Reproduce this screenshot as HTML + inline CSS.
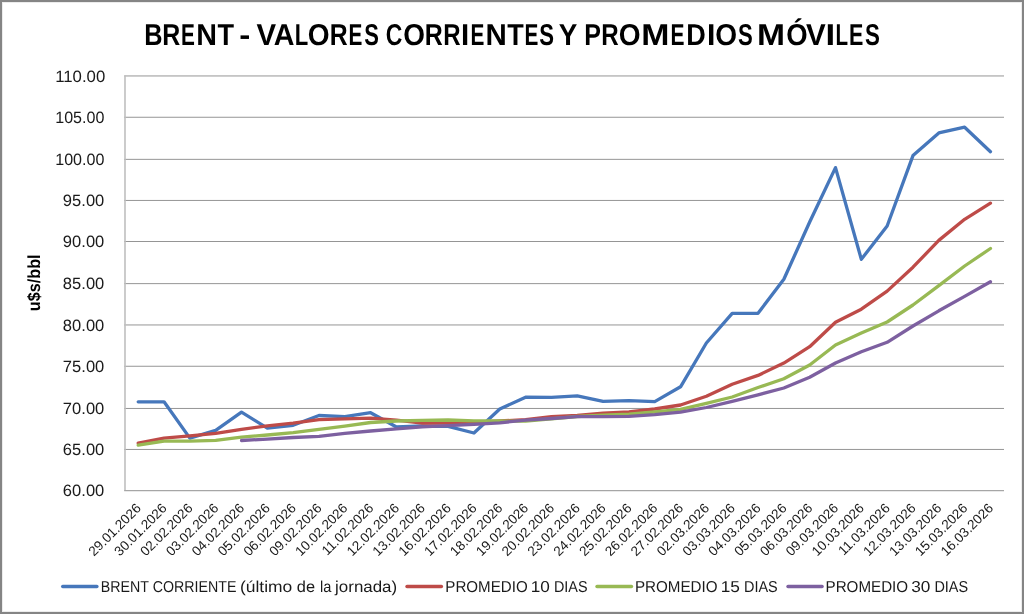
<!DOCTYPE html>
<html><head><meta charset="utf-8"><title>BRENT - Valores corrientes y promedios moviles</title>
<style>
html,body{margin:0;padding:0;background:#fff;}
body{width:1024px;height:614px;overflow:hidden;}
svg{display:block;will-change:transform;}
text{font-family:"Liberation Sans",sans-serif;text-rendering:geometricPrecision;}
</style></head><body>
<svg width="1024" height="614" viewBox="0 0 1024 614">
<rect x="0" y="0" width="1024" height="614" fill="#ffffff"/>
<rect x="1" y="1" width="1022" height="612" fill="none" stroke="#858585" stroke-width="2"/>
<rect x="2.5" y="2.5" width="1019" height="609" fill="none" stroke="#ececec" stroke-width="1"/>
<line x1="124.2" y1="449.45" x2="1004.0" y2="449.45" stroke="#959595" stroke-width="1"/>
<line x1="124.2" y1="408.46" x2="1004.0" y2="408.46" stroke="#959595" stroke-width="1"/>
<line x1="124.2" y1="366.25" x2="1004.0" y2="366.25" stroke="#959595" stroke-width="1"/>
<line x1="124.2" y1="324.96" x2="1004.0" y2="324.96" stroke="#959595" stroke-width="1"/>
<line x1="124.2" y1="283.64" x2="1004.0" y2="283.64" stroke="#959595" stroke-width="1"/>
<line x1="124.2" y1="241.50" x2="1004.0" y2="241.50" stroke="#959595" stroke-width="1"/>
<line x1="124.2" y1="200.45" x2="1004.0" y2="200.45" stroke="#959595" stroke-width="1"/>
<line x1="124.2" y1="159.35" x2="1004.0" y2="159.35" stroke="#959595" stroke-width="1"/>
<line x1="124.2" y1="117.25" x2="1004.0" y2="117.25" stroke="#959595" stroke-width="1"/>
<line x1="124.2" y1="75.96" x2="1004.0" y2="75.96" stroke="#959595" stroke-width="1"/>
<line x1="125.0" y1="75.46" x2="125.0" y2="490.64" stroke="#bfbfbf" stroke-width="1.6"/>
<line x1="124.2" y1="490.64" x2="1004.0" y2="490.64" stroke="#a6a6a6" stroke-width="1.4"/>
<text x="144.22" y="45.25" font-size="30.2" font-weight="bold" fill="#000" textLength="18.30" lengthAdjust="spacingAndGlyphs">B</text>
<text x="162.25" y="45.25" font-size="30.2" font-weight="bold" fill="#000" textLength="18.02" lengthAdjust="spacingAndGlyphs">R</text>
<text x="181.12" y="45.25" font-size="30.2" font-weight="bold" fill="#000" textLength="13.86" lengthAdjust="spacingAndGlyphs">E</text>
<text x="196.20" y="45.25" font-size="30.2" font-weight="bold" fill="#000" textLength="20.72" lengthAdjust="spacingAndGlyphs">N</text>
<text x="217.60" y="45.25" font-size="30.2" font-weight="bold" fill="#000" textLength="16.56" lengthAdjust="spacingAndGlyphs">T</text>
<text x="239.30" y="45.25" font-size="30.2" font-weight="bold" fill="#000" textLength="11.07" lengthAdjust="spacingAndGlyphs">-</text>
<text x="256.53" y="45.25" font-size="30.2" font-weight="bold" fill="#000" textLength="19.61" lengthAdjust="spacingAndGlyphs">V</text>
<text x="273.65" y="45.25" font-size="30.2" font-weight="bold" fill="#000" textLength="20.72" lengthAdjust="spacingAndGlyphs">A</text>
<text x="294.64" y="45.25" font-size="30.2" font-weight="bold" fill="#000" textLength="13.49" lengthAdjust="spacingAndGlyphs">L</text>
<text x="307.87" y="45.25" font-size="30.2" font-weight="bold" fill="#000" textLength="21.81" lengthAdjust="spacingAndGlyphs">O</text>
<text x="329.76" y="45.25" font-size="30.2" font-weight="bold" fill="#000" textLength="17.91" lengthAdjust="spacingAndGlyphs">R</text>
<text x="348.52" y="45.25" font-size="30.2" font-weight="bold" fill="#000" textLength="13.86" lengthAdjust="spacingAndGlyphs">E</text>
<text x="364.37" y="45.25" font-size="30.2" font-weight="bold" fill="#000" textLength="14.66" lengthAdjust="spacingAndGlyphs">S</text>
<text x="385.74" y="45.25" font-size="30.2" font-weight="bold" fill="#000" textLength="16.58" lengthAdjust="spacingAndGlyphs">C</text>
<text x="403.18" y="45.25" font-size="30.2" font-weight="bold" fill="#000" textLength="21.70" lengthAdjust="spacingAndGlyphs">O</text>
<text x="424.65" y="45.25" font-size="30.2" font-weight="bold" fill="#000" textLength="18.02" lengthAdjust="spacingAndGlyphs">R</text>
<text x="443.31" y="45.25" font-size="30.2" font-weight="bold" fill="#000" textLength="17.34" lengthAdjust="spacingAndGlyphs">R</text>
<text x="461.05" y="45.25" font-size="30.2" font-weight="bold" fill="#000" textLength="8.18" lengthAdjust="spacingAndGlyphs">I</text>
<text x="470.42" y="45.25" font-size="30.2" font-weight="bold" fill="#000" textLength="13.86" lengthAdjust="spacingAndGlyphs">E</text>
<text x="485.44" y="45.25" font-size="30.2" font-weight="bold" fill="#000" textLength="21.33" lengthAdjust="spacingAndGlyphs">N</text>
<text x="507.30" y="45.25" font-size="30.2" font-weight="bold" fill="#000" textLength="16.51" lengthAdjust="spacingAndGlyphs">T</text>
<text x="524.52" y="45.25" font-size="30.2" font-weight="bold" fill="#000" textLength="13.86" lengthAdjust="spacingAndGlyphs">E</text>
<text x="539.27" y="45.25" font-size="30.2" font-weight="bold" fill="#000" textLength="14.77" lengthAdjust="spacingAndGlyphs">S</text>
<text x="558.68" y="45.25" font-size="30.2" font-weight="bold" fill="#000" textLength="18.57" lengthAdjust="spacingAndGlyphs">Y</text>
<text x="584.24" y="45.25" font-size="30.2" font-weight="bold" fill="#000" textLength="16.70" lengthAdjust="spacingAndGlyphs">P</text>
<text x="601.30" y="45.25" font-size="30.2" font-weight="bold" fill="#000" textLength="17.45" lengthAdjust="spacingAndGlyphs">R</text>
<text x="618.67" y="45.25" font-size="30.2" font-weight="bold" fill="#000" textLength="21.81" lengthAdjust="spacingAndGlyphs">O</text>
<text x="641.26" y="45.25" font-size="30.2" font-weight="bold" fill="#000" textLength="28.15" lengthAdjust="spacingAndGlyphs">M</text>
<text x="670.41" y="45.25" font-size="30.2" font-weight="bold" fill="#000" textLength="13.98" lengthAdjust="spacingAndGlyphs">E</text>
<text x="686.21" y="45.25" font-size="30.2" font-weight="bold" fill="#000" textLength="19.52" lengthAdjust="spacingAndGlyphs">D</text>
<text x="706.90" y="45.25" font-size="30.2" font-weight="bold" fill="#000" textLength="8.39" lengthAdjust="spacingAndGlyphs">I</text>
<text x="715.37" y="45.25" font-size="30.2" font-weight="bold" fill="#000" textLength="21.81" lengthAdjust="spacingAndGlyphs">O</text>
<text x="737.97" y="45.25" font-size="30.2" font-weight="bold" fill="#000" textLength="14.77" lengthAdjust="spacingAndGlyphs">S</text>
<text x="757.07" y="45.25" font-size="30.2" font-weight="bold" fill="#000" textLength="28.03" lengthAdjust="spacingAndGlyphs">M</text>
<text x="786.19" y="45.25" font-size="30.2" font-weight="bold" fill="#000" textLength="21.36" lengthAdjust="spacingAndGlyphs">Ó</text>
<text x="806.12" y="45.25" font-size="30.2" font-weight="bold" fill="#000" textLength="19.72" lengthAdjust="spacingAndGlyphs">V</text>
<text x="825.60" y="45.25" font-size="30.2" font-weight="bold" fill="#000" textLength="9.65" lengthAdjust="spacingAndGlyphs">I</text>
<text x="835.44" y="45.25" font-size="30.2" font-weight="bold" fill="#000" textLength="12.57" lengthAdjust="spacingAndGlyphs">L</text>
<text x="849.08" y="45.25" font-size="30.2" font-weight="bold" fill="#000" textLength="14.34" lengthAdjust="spacingAndGlyphs">E</text>
<text x="864.96" y="45.25" font-size="30.2" font-weight="bold" fill="#000" textLength="14.88" lengthAdjust="spacingAndGlyphs">S</text>
<text x="100.80" y="591.60" font-size="15.8" fill="#1a1a1a" textLength="48.19" lengthAdjust="spacingAndGlyphs">BRENT</text>
<text x="152.80" y="591.60" font-size="15.8" fill="#1a1a1a" textLength="83.63" lengthAdjust="spacingAndGlyphs">CORRIENTE</text>
<text x="240.00" y="591.60" font-size="15.8" fill="#1a1a1a" textLength="52.25" lengthAdjust="spacingAndGlyphs">(último</text>
<text x="296.86" y="591.60" font-size="15.8" fill="#1a1a1a" textLength="18.24" lengthAdjust="spacingAndGlyphs">de</text>
<text x="319.97" y="591.60" font-size="15.8" fill="#1a1a1a" textLength="11.40" lengthAdjust="spacingAndGlyphs">la</text>
<text x="335.10" y="591.60" font-size="15.8" fill="#1a1a1a" textLength="62.04" lengthAdjust="spacingAndGlyphs">jornada)</text>
<text x="445.34" y="591.60" font-size="15.8" fill="#1a1a1a" textLength="82.33" lengthAdjust="spacingAndGlyphs">PROMEDIO</text>
<text x="530.71" y="591.60" font-size="15.8" fill="#1a1a1a" textLength="19.12" lengthAdjust="spacingAndGlyphs">10</text>
<text x="553.89" y="591.60" font-size="15.8" fill="#1a1a1a" textLength="33.61" lengthAdjust="spacingAndGlyphs">DIAS</text>
<text x="634.94" y="591.60" font-size="15.8" fill="#1a1a1a" textLength="82.68" lengthAdjust="spacingAndGlyphs">PROMEDIO</text>
<text x="720.68" y="591.60" font-size="15.8" fill="#1a1a1a" textLength="19.19" lengthAdjust="spacingAndGlyphs">15</text>
<text x="743.94" y="591.60" font-size="15.8" fill="#1a1a1a" textLength="33.76" lengthAdjust="spacingAndGlyphs">DIAS</text>
<text x="825.54" y="591.60" font-size="15.8" fill="#1a1a1a" textLength="82.56" lengthAdjust="spacingAndGlyphs">PROMEDIO</text>
<text x="911.15" y="591.60" font-size="15.8" fill="#1a1a1a" textLength="19.17" lengthAdjust="spacingAndGlyphs">30</text>
<text x="934.40" y="591.60" font-size="15.8" fill="#1a1a1a" textLength="33.70" lengthAdjust="spacingAndGlyphs">DIAS</text>
<text x="62.89" y="496.39" font-size="16.4" fill="#1a1a1a" textLength="41.44" lengthAdjust="spacingAndGlyphs">60.00</text>
<text x="62.89" y="455.20" font-size="16.4" fill="#1a1a1a" textLength="41.44" lengthAdjust="spacingAndGlyphs">65.00</text>
<text x="62.89" y="414.21" font-size="16.4" fill="#1a1a1a" textLength="41.44" lengthAdjust="spacingAndGlyphs">70.00</text>
<text x="62.89" y="372.00" font-size="16.4" fill="#1a1a1a" textLength="41.44" lengthAdjust="spacingAndGlyphs">75.00</text>
<text x="62.89" y="330.71" font-size="16.4" fill="#1a1a1a" textLength="41.44" lengthAdjust="spacingAndGlyphs">80.00</text>
<text x="62.89" y="289.39" font-size="16.4" fill="#1a1a1a" textLength="41.44" lengthAdjust="spacingAndGlyphs">85.00</text>
<text x="62.89" y="247.25" font-size="16.4" fill="#1a1a1a" textLength="41.44" lengthAdjust="spacingAndGlyphs">90.00</text>
<text x="62.89" y="206.20" font-size="16.4" fill="#1a1a1a" textLength="41.44" lengthAdjust="spacingAndGlyphs">95.00</text>
<text x="55.22" y="165.10" font-size="16.4" fill="#1a1a1a" textLength="49.22" lengthAdjust="spacingAndGlyphs">100.00</text>
<text x="55.22" y="123.00" font-size="16.4" fill="#1a1a1a" textLength="49.22" lengthAdjust="spacingAndGlyphs">105.00</text>
<text x="55.18" y="81.71" font-size="16.4" fill="#1a1a1a" textLength="50.07" lengthAdjust="spacingAndGlyphs">110.00</text>
<text transform="translate(40.2,311.13) rotate(-90)" font-weight="bold" font-size="17.5" fill="#000" textLength="56.70" lengthAdjust="spacingAndGlyphs">u$s/bbl</text>
<text transform="translate(141.80,509.00) rotate(-45)" text-anchor="end" font-size="13.5" fill="#1a1a1a">29.01.2026</text>
<text transform="translate(167.63,509.00) rotate(-45)" text-anchor="end" font-size="13.5" fill="#1a1a1a">30.01.2026</text>
<text transform="translate(193.45,509.00) rotate(-45)" text-anchor="end" font-size="13.5" fill="#1a1a1a">02.02.2026</text>
<text transform="translate(219.28,509.00) rotate(-45)" text-anchor="end" font-size="13.5" fill="#1a1a1a">03.02.2026</text>
<text transform="translate(245.10,509.00) rotate(-45)" text-anchor="end" font-size="13.5" fill="#1a1a1a">04.02.2026</text>
<text transform="translate(270.93,509.00) rotate(-45)" text-anchor="end" font-size="13.5" fill="#1a1a1a">05.02.2026</text>
<text transform="translate(296.76,509.00) rotate(-45)" text-anchor="end" font-size="13.5" fill="#1a1a1a">06.02.2026</text>
<text transform="translate(322.58,509.00) rotate(-45)" text-anchor="end" font-size="13.5" fill="#1a1a1a">09.02.2026</text>
<text transform="translate(348.41,509.00) rotate(-45)" text-anchor="end" font-size="13.5" fill="#1a1a1a">10.02.2026</text>
<text transform="translate(374.23,509.00) rotate(-45)" text-anchor="end" font-size="13.5" fill="#1a1a1a">11.02.2026</text>
<text transform="translate(400.06,509.00) rotate(-45)" text-anchor="end" font-size="13.5" fill="#1a1a1a">12.02.2026</text>
<text transform="translate(425.89,509.00) rotate(-45)" text-anchor="end" font-size="13.5" fill="#1a1a1a">13.02.2026</text>
<text transform="translate(451.71,509.00) rotate(-45)" text-anchor="end" font-size="13.5" fill="#1a1a1a">16.02.2026</text>
<text transform="translate(477.54,509.00) rotate(-45)" text-anchor="end" font-size="13.5" fill="#1a1a1a">17.02.2026</text>
<text transform="translate(503.36,509.00) rotate(-45)" text-anchor="end" font-size="13.5" fill="#1a1a1a">18.02.2026</text>
<text transform="translate(529.19,509.00) rotate(-45)" text-anchor="end" font-size="13.5" fill="#1a1a1a">19.02.2026</text>
<text transform="translate(555.02,509.00) rotate(-45)" text-anchor="end" font-size="13.5" fill="#1a1a1a">20.02.2026</text>
<text transform="translate(580.84,509.00) rotate(-45)" text-anchor="end" font-size="13.5" fill="#1a1a1a">23.02.2026</text>
<text transform="translate(606.67,509.00) rotate(-45)" text-anchor="end" font-size="13.5" fill="#1a1a1a">24.02.2026</text>
<text transform="translate(632.49,509.00) rotate(-45)" text-anchor="end" font-size="13.5" fill="#1a1a1a">25.02.2026</text>
<text transform="translate(658.32,509.00) rotate(-45)" text-anchor="end" font-size="13.5" fill="#1a1a1a">26.02.2026</text>
<text transform="translate(684.15,509.00) rotate(-45)" text-anchor="end" font-size="13.5" fill="#1a1a1a">27.02.2026</text>
<text transform="translate(709.97,509.00) rotate(-45)" text-anchor="end" font-size="13.5" fill="#1a1a1a">02.03.2026</text>
<text transform="translate(735.80,509.00) rotate(-45)" text-anchor="end" font-size="13.5" fill="#1a1a1a">03.03.2026</text>
<text transform="translate(761.62,509.00) rotate(-45)" text-anchor="end" font-size="13.5" fill="#1a1a1a">04.03.2026</text>
<text transform="translate(787.45,509.00) rotate(-45)" text-anchor="end" font-size="13.5" fill="#1a1a1a">05.03.2026</text>
<text transform="translate(813.28,509.00) rotate(-45)" text-anchor="end" font-size="13.5" fill="#1a1a1a">06.03.2026</text>
<text transform="translate(839.10,509.00) rotate(-45)" text-anchor="end" font-size="13.5" fill="#1a1a1a">09.03.2026</text>
<text transform="translate(864.93,509.00) rotate(-45)" text-anchor="end" font-size="13.5" fill="#1a1a1a">10.03.2026</text>
<text transform="translate(890.75,509.00) rotate(-45)" text-anchor="end" font-size="13.5" fill="#1a1a1a">11.03.2026</text>
<text transform="translate(916.58,509.00) rotate(-45)" text-anchor="end" font-size="13.5" fill="#1a1a1a">12.03.2026</text>
<text transform="translate(942.41,509.00) rotate(-45)" text-anchor="end" font-size="13.5" fill="#1a1a1a">13.03.2026</text>
<text transform="translate(968.23,509.00) rotate(-45)" text-anchor="end" font-size="13.5" fill="#1a1a1a">15.03.2026</text>
<text transform="translate(994.06,509.00) rotate(-45)" text-anchor="end" font-size="13.5" fill="#1a1a1a">16.03.2026</text>
<polyline points="138.20,401.80 164.03,401.80 189.85,438.10 215.68,430.40 241.50,412.20 267.33,428.10 293.16,425.30 318.98,415.50 344.81,416.70 370.63,412.70 396.46,427.00 422.29,426.00 448.11,426.30 473.94,433.00 499.76,409.00 525.59,397.20 551.42,397.40 577.24,395.90 603.07,401.40 628.89,400.60 654.72,401.60 680.55,386.80 706.37,343.00 732.20,313.40 758.02,313.30 783.85,279.30 809.68,222.00 835.50,167.60 861.33,259.30 887.15,226.00 912.98,155.60 938.81,132.90 964.63,127.20 990.46,151.70" fill="none" stroke="#4677bb" stroke-width="3.3" stroke-linejoin="round" stroke-linecap="round"/>
<polyline points="138.20,443.10 164.03,438.10 189.85,435.80 215.68,433.40 241.50,429.30 267.33,425.80 293.16,423.20 318.98,419.60 344.81,418.90 370.63,418.10 396.46,420.10 422.29,423.20 448.11,423.20 473.94,422.60 499.76,421.00 525.59,419.60 551.42,416.70 577.24,415.30 603.07,413.20 628.89,411.90 654.72,409.00 680.55,405.00 706.37,396.30 732.20,384.30 758.02,375.40 783.85,363.10 809.68,346.70 835.50,322.30 861.33,309.20 887.15,291.10 912.98,267.20 938.81,240.40 964.63,219.30 990.46,203.20" fill="none" stroke="#be4b48" stroke-width="3.3" stroke-linejoin="round" stroke-linecap="round"/>
<polyline points="138.20,445.20 164.03,441.10 189.85,441.20 215.68,440.40 241.50,437.10 267.33,435.00 293.16,432.60 318.98,429.30 344.81,426.10 370.63,422.50 396.46,421.00 422.29,420.40 448.11,420.00 473.94,420.80 499.76,421.00 525.59,421.20 551.42,418.90 577.24,416.50 603.07,415.10 628.89,414.20 654.72,412.00 680.55,409.30 706.37,403.30 732.20,397.00 758.02,387.50 783.85,378.80 809.68,365.00 835.50,345.00 861.33,333.10 887.15,322.00 912.98,305.00 938.81,285.60 964.63,266.00 990.46,248.50" fill="none" stroke="#98b954" stroke-width="3.3" stroke-linejoin="round" stroke-linecap="round"/>
<polyline points="241.50,440.50 267.33,439.10 293.16,437.50 318.98,436.30 344.81,433.40 370.63,431.00 396.46,428.90 422.29,426.90 448.11,425.70 473.94,424.40 499.76,422.80 525.59,420.10 551.42,418.50 577.24,416.70 603.07,416.60 628.89,416.40 654.72,414.70 680.55,412.10 706.37,407.50 732.20,401.40 758.02,394.80 783.85,388.00 809.68,377.20 835.50,363.00 861.33,351.80 887.15,342.30 912.98,326.00 938.81,310.80 964.63,296.40 990.46,281.80" fill="none" stroke="#7d60a0" stroke-width="3.3" stroke-linejoin="round" stroke-linecap="round"/>
<line x1="62.70" y1="586.5" x2="96.90" y2="586.5" stroke="#4677bb" stroke-width="3.4" stroke-linecap="round"/>
<line x1="407.00" y1="586.5" x2="441.40" y2="586.5" stroke="#be4b48" stroke-width="3.4" stroke-linecap="round"/>
<line x1="597.00" y1="586.5" x2="631.50" y2="586.5" stroke="#98b954" stroke-width="3.4" stroke-linecap="round"/>
<line x1="788.00" y1="586.5" x2="822.10" y2="586.5" stroke="#7d60a0" stroke-width="3.4" stroke-linecap="round"/>
</svg>
</body></html>
